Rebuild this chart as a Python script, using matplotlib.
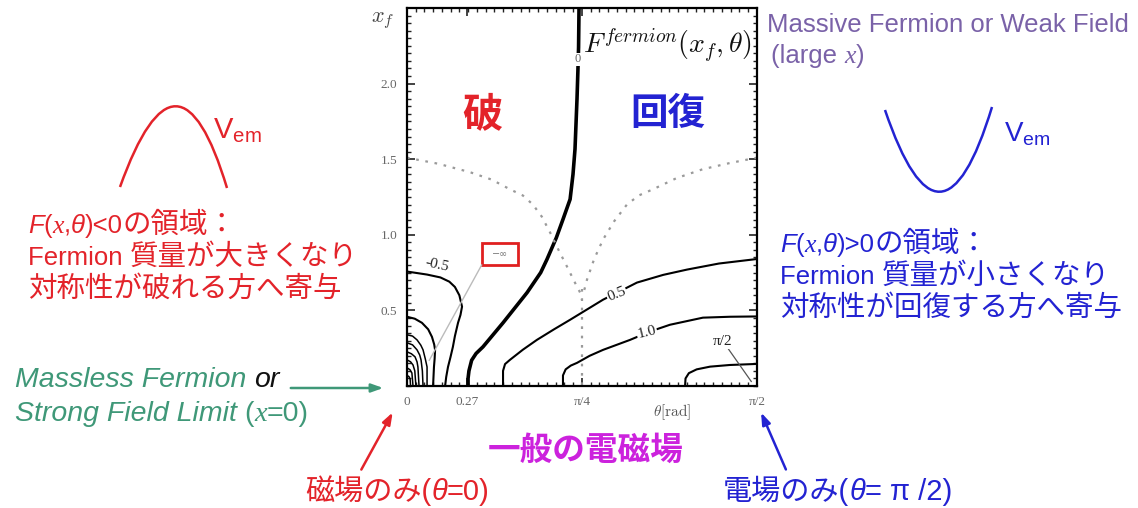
import numpy as np
import matplotlib
matplotlib.use('Agg')
import matplotlib.pyplot as plt
from matplotlib.patches import Rectangle, PathPatch
from matplotlib.path import Path

plt.rcParams['font.family'] = ['Liberation Sans', 'Noto Sans CJK JP']
plt.rcParams['mathtext.fontset'] = 'custom'
plt.rcParams['mathtext.rm'] = 'Liberation Sans'
plt.rcParams['mathtext.it'] = 'Liberation Sans:italic'

# contour lines of F^fermion(x_f, theta), read as (theta, x_f) points
zero_theta = [0.274, 0.274, 0.278, 0.290, 0.310, 0.341, 0.431, 0.539, 0.600, 0.628, 0.670,
              0.700, 0.732, 0.745, 0.754, 0.763, 0.767, 0.770, 0.772]
zero_x = [0.0, 0.05, 0.10, 0.17, 0.215, 0.259, 0.418, 0.618, 0.75, 0.837, 0.98,
          1.102, 1.235, 1.40, 1.567, 1.899, 2.085, 2.24, 2.5]

m05_theta = [0.0, 0.09, 0.150, 0.190, 0.215, 0.235, 0.247, 0.240, 0.229, 0.215, 0.206,
             0.195, 0.184, 0.176, 0.171]
m05_x = [0.757, 0.737, 0.718, 0.690, 0.655, 0.600, 0.525, 0.470, 0.418, 0.33, 0.259,
         0.19, 0.126, 0.06, 0.0]

m10_theta = [0.0, 0.035, 0.067, 0.095, 0.112, 0.122, 0.126, 0.124, 0.121, 0.117]
m10_x = [0.458, 0.445, 0.418, 0.375, 0.325, 0.275, 0.239, 0.18, 0.126, 0.0]

# nested contours crowding the origin
inner_theta = [[0.0, 0.025, 0.045, 0.062, 0.072, 0.082, 0.090, 0.090],
               [0.0, 0.025, 0.045, 0.057, 0.063, 0.069, 0.072],
               [0.0, 0.020, 0.036, 0.045, 0.049, 0.054],
               [0.0, 0.016, 0.027, 0.035, 0.040],
               [0.0, 0.013, 0.022, 0.027],
               [0.0, 0.009, 0.014, 0.016]]
inner_x = [[0.339, 0.330, 0.305, 0.270, 0.239, 0.18, 0.126, 0.0],
           [0.286, 0.272, 0.239, 0.205, 0.173, 0.10, 0.0],
           [0.226, 0.213, 0.193, 0.160, 0.126, 0.0],
           [0.173, 0.160, 0.139, 0.100, 0.0],
           [0.120, 0.108, 0.086, 0.0],
           [0.070, 0.062, 0.045, 0.0]]

p05_theta = [0.431, 0.431, 0.440, 0.462, 0.52, 0.583, 0.66, 0.732, 0.880, 0.96, 1.032,
             1.15, 1.257, 1.40, 1.571]
p05_x = [0.0, 0.10, 0.145, 0.173, 0.24, 0.305, 0.375, 0.438, 0.571, 0.63, 0.684,
         0.735, 0.770, 0.81, 0.84]

p10_theta = [0.700, 0.700, 0.712, 0.735, 0.763, 0.82, 0.880, 1.001, 1.09, 1.180, 1.328,
             1.45, 1.571]
p10_x = [0.0, 0.07, 0.11, 0.135, 0.153, 0.20, 0.239, 0.305, 0.36, 0.405, 0.452,
         0.458, 0.46]

pi2_theta = [1.248, 1.250, 1.265, 1.30, 1.36, 1.449, 1.571]
pi2_x = [0.0, 0.05, 0.085, 0.11, 0.128, 0.139, 0.146]

# dotted guide curves
dotl_theta = [0.0, 0.14, 0.283, 0.38, 0.462, 0.52, 0.565, 0.605, 0.642, 0.68, 0.718,
              0.755, 0.777, 0.785]
dotl_x = [1.51, 1.47, 1.414, 1.365, 1.301, 1.26, 1.20, 1.12, 1.016, 0.90, 0.790,
          0.68, 0.618, 0.571]
dotr_theta = [1.571, 1.45, 1.328, 1.21, 1.104, 1.04, 0.987, 0.93, 0.880, 0.84, 0.808, 0.790]
dotr_x = [1.51, 1.475, 1.434, 1.375, 1.301, 1.26, 1.20, 1.09, 0.969, 0.84, 0.704, 0.604]

xtick_vals = [0, 0.27, np.pi / 4, np.pi / 2]
xtick_text = ['0', '0.27', 'π/4', 'π/2']
ytick_vals = [0.5, 1.0, 1.5, 2.0]

# sketch potentials: start, control, end (pixel coordinates of the slide)
vneg_pts = [(120, 187), (178, 25), (227, 188)]
vpos_pts = [(885, 110), (941, 275), (992, 107)]

red = '#e3232a'
blue = '#2323d2'
green = '#3f9878'
purple = '#7a62a8'
magenta = '#cc22dd'
SERIF_IT = dict(family='Liberation Serif', style='italic')
SANS_IT = dict(style='italic')

W, H = 1138, 508
fig = plt.figure(figsize=(W / 100, H / 100), dpi=100)

ax = fig.add_axes([407 / W, 1 - 386 / H, 350 / W, 378 / H])
ax.set_xlim(0, np.pi / 2)
ax.set_ylim(0, 2.5)

line = dict(color='black', solid_joinstyle='round', solid_capstyle='round')
ax.plot(zero_theta, zero_x, lw=2.6, **line)
for th, xx in [(m05_theta, m05_x), (m10_theta, m10_x), (p05_theta, p05_x),
               (p10_theta, p10_x), (pi2_theta, pi2_x)]:
    ax.plot(th, xx, lw=1.5, **line)
for th, xx in zip(inner_theta, inner_x):
    ax.plot(th, xx, lw=1.1, **line)

dots = dict(color='#9a9a9a', lw=1.6, linestyle=(0, (1.2, 3)))
ax.plot(dotl_theta, dotl_x, **dots)
ax.plot(dotr_theta, dotr_x, **dots)
ax.plot([np.pi / 4, np.pi / 4], [0.64, 0.0], **dots)

# leader lines
ax.plot([0.335, 0.10], [0.80, 0.17], color='#bbbbbb', lw=1.0)
ax.plot([1.44, 1.545], [0.25, 0.03], color='#555555', lw=0.9)

lab = dict(family='Liberation Serif', fontsize=11, color='#222222', ha='center', va='center',
           bbox=dict(facecolor='white', edgecolor='none', pad=0.5))
ax.text(0.135, 0.80, '-0.5', rotation=-12, **lab)
ax.text(0.942, 0.604, '0.5', rotation=22, **lab)
ax.text(1.077, 0.352, '1.0', rotation=14, **lab)
ax.text(1.418, 0.292, 'π/2', **lab)
ax.text(0.767, 2.16, '0', **{**lab, 'fontsize': 9, 'color': '#666666'})

ax.add_patch(Rectangle((0.336, 0.802), 0.162, 0.141, fill=False, edgecolor='#e02020', lw=2))
ax.text(0.417, 0.872, '−∞', ha='center', va='center', fontsize=7, color='#777777',
        family='DejaVu Sans')

ax.text(0.79, 2.2, r'$F^{fermion}(x_f,\theta)$', math_fontfamily='cm', fontsize=20,
        va='baseline', ha='left', color='#111111')

ax.set_xticks(xtick_vals, xtick_text)
ax.set_yticks(ytick_vals, [f'{v:.1f}' for v in ytick_vals])
ax.set_xticks(np.arange(0, np.pi / 2, np.pi / 80), minor=True)
ax.set_yticks(np.arange(0, 2.5, 0.05), minor=True)
ax.tick_params(which='both', direction='in', top=True, right=True, color='#222222')
ax.tick_params(which='major', length=6, width=1.2, labelsize=9.5, labelcolor='#666666', pad=7)
ax.tick_params(which='minor', length=3, width=1)
for t in ax.get_xticklabels() + ax.get_yticklabels():
    t.set_family('Liberation Serif')
for s in ax.spines.values():
    s.set_linewidth(1.6)

# slide annotations, in pixel coordinates
ov = fig.add_axes([0, 0, 1, 1], zorder=5)
ov.set_xlim(0, W)
ov.set_ylim(H, 0)
ov.axis('off')
ov.patch.set_visible(False)


def seq(x, y, pieces, **common):
    prev = None
    for s, kw in pieces:
        kw = {**common, **kw}
        if prev is None:
            prev = ov.text(x, y, s, va='baseline', ha='left', **kw)
        else:
            prev = ov.annotate(s, xy=(1, y), xycoords=(prev, 'data'),
                               va='baseline', ha='left', **kw)
    return prev


ov.text(383, 22, r'$x_f$', math_fontfamily='cm', fontsize=16, ha='center',
        va='baseline', color='#444444')
ov.text(672, 416, r'$\theta[\mathrm{rad}]$', math_fontfamily='cm', fontsize=11,
        ha='center', va='baseline', color='#555555')

ov.text(482, 115, '破', ha='center', va='center', fontsize=29, weight='bold', color=red)
ov.text(668, 115, '回復', ha='center', va='center', fontsize=27, weight='bold', color=blue)

seq(767, 32, [('Massive Fermion or Weak Field', {})], fontsize=18.5, color=purple)
seq(771, 63, [('(large ', {}), ('x', SERIF_IT), (')', {})], fontsize=18.5, color=purple)

curve = [Path.MOVETO, Path.CURVE3, Path.CURVE3]
ov.add_patch(PathPatch(Path(vneg_pts, curve), fill=False, edgecolor=red, lw=1.8))
ov.text(213, 138, r'$\mathrm{V}_{\mathrm{em}}$', fontsize=21, color=red, va='baseline')
ov.add_patch(PathPatch(Path(vpos_pts, curve), fill=False, edgecolor=blue, lw=1.8))
ov.text(1004, 142, r'$\mathrm{V}_{\mathrm{em}}$', fontsize=20, color=blue, va='baseline')

fs = 20.5
lat = dict(fontsize=18.5)
seq(28, 233, [('F', {**SANS_IT, **lat}), ('(', lat), ('x', {**SERIF_IT, **lat}), (',', lat),
              ('θ', {**SANS_IT, **lat}), (')<0', lat), ('の領域：', {})], fontsize=fs, color=red)
seq(28, 265, [('Fermion ', lat), ('質量が大きくなり', {})], fontsize=fs, color=red)
seq(28, 297, [('対称性が破れる方へ寄与', {})], fontsize=fs, color=red)

seq(780, 252, [('F', {**SANS_IT, **lat}), ('(', lat), ('x', {**SERIF_IT, **lat}), (',', lat),
               ('θ', {**SANS_IT, **lat}), (')>0', lat), ('の領域：', {})], fontsize=fs, color=blue)
seq(780, 284, [('Fermion ', lat), ('質量が小さくなり', {})], fontsize=fs, color=blue)
seq(780, 316, [('対称性が回復する方へ寄与', {})], fontsize=fs, color=blue)

seq(15, 387, [('Massless Fermion ', SANS_IT), ('or', {**SANS_IT, 'color': '#111111'})],
    fontsize=fs, color=green)
seq(15, 421, [('Strong Field Limit ', SANS_IT), ('(', {}), ('x', SERIF_IT), ('=0)', {})],
    fontsize=fs, color=green)

ov.text(586, 460, '一般の電磁場', ha='center', va='baseline', fontsize=23.5,
        weight='bold', color=magenta)
seq(305, 500, [('磁場のみ(', {}), ('θ', SANS_IT), ('=0)', {})], fontsize=21, color=red)
seq(723, 500, [('電場のみ(', {}), ('θ', SANS_IT), ('= π /2)', {})], fontsize=21, color=blue)

arrow = '-|>,head_length=0.7,head_width=0.25'
ov.annotate('', xy=(386, 388), xytext=(288, 388),
            arrowprops=dict(arrowstyle=arrow, color=green, lw=1.8))
ov.annotate('', xy=(394, 410), xytext=(360, 472),
            arrowprops=dict(arrowstyle=arrow, color=red, lw=1.8))
ov.annotate('', xy=(760, 410), xytext=(787, 472),
            arrowprops=dict(arrowstyle=arrow, color=blue, lw=1.8))

fig.savefig('out.png', dpi=100, facecolor='white')
